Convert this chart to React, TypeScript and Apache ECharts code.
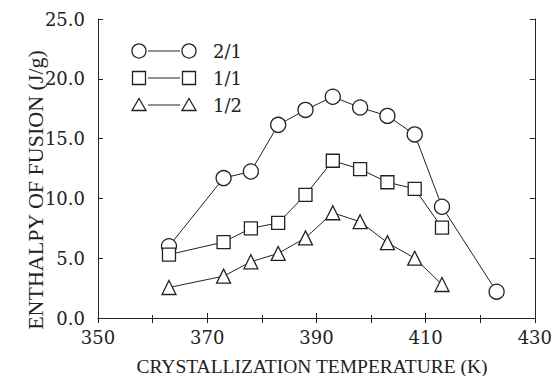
import React, { useEffect, useRef } from "react";
import * as echarts from "echarts";

const temps21 = [363, 373, 378, 383, 388, 393, 398, 403, 408, 413, 423];
const vals21 = [6.0, 11.7, 12.25, 16.15, 17.4, 18.5, 17.6, 16.9, 15.35, 9.3, 2.2];
const temps11 = [363, 373, 378, 383, 388, 393, 398, 403, 408, 413];
const vals11 = [5.3, 6.35, 7.5, 7.95, 10.3, 13.15, 12.45, 11.35, 10.8, 7.55];
const temps12 = [363, 373, 378, 383, 388, 393, 398, 403, 408, 413];
const vals12 = [2.55, 3.5, 4.7, 5.4, 6.7, 8.8, 8.05, 6.3, 5.0, 2.8];
const legendLabels = ["2/1", "1/1", "1/2"];
const xTitle = "CRYSTALLIZATION TEMPERATURE (K)";
const yTitle = "ENTHALPY OF FUSION (J/g)";

const INK = "#222";

export default function App() {
  const ref = useRef<HTMLDivElement>(null);
  useEffect(() => {
    const chart = echarts.init(ref.current!, null, { renderer: "svg" });
    const pair = (t: number[], v: number[]) => t.map((x, i) => [x, v[i]]);
    const common = {
      type: "line",
      lineStyle: { color: INK, width: 1 },
      itemStyle: { color: "#fff", borderColor: INK, borderWidth: 1.3 },
      showSymbol: true,
      z: 3,
    };
    const lx1 = 139, lx2 = 189, ltx = 213;
    const rows = [51, 78, 105];
    const markerStyle = { fill: "#fff", stroke: INK, lineWidth: 1.3 };
    const gfx: any[] = [];
    rows.forEach((y, i) => {
      gfx.push({ type: "line", shape: { x1: lx1 + 9, y1: y, x2: lx2 - 9, y2: y }, style: { stroke: INK, lineWidth: 1 } });
      [lx1, lx2].forEach((cx) => {
        if (i === 0) gfx.push({ type: "circle", shape: { cx, cy: y, r: 7 }, style: markerStyle });
        else if (i === 1) gfx.push({ type: "rect", shape: { x: cx - 6.5, y: y - 6.5, width: 13, height: 13 }, style: markerStyle });
        else gfx.push({ type: "polygon", shape: { points: [[cx, y - 6.5], [cx + 7, y + 5.5], [cx - 7, y + 5.5]] }, style: markerStyle });
      });
      gfx.push({ type: "text", x: ltx, y, style: { text: legendLabels[i], font: "18px 'DejaVu Serif'", fill: INK, verticalAlign: "middle" } });
    });
    gfx.push({ type: "text", x: 312, y: 366, style: { text: xTitle, font: "19.5px 'Liberation Serif'", fill: INK, align: "center", verticalAlign: "middle" } });
    gfx.push({ type: "text", x: 35, y: 190, rotation: Math.PI / 2, style: { text: yTitle, font: "22px 'Liberation Serif'", fill: INK, align: "center", verticalAlign: "middle" } });
    chart.setOption({
      animation: false,
      backgroundColor: "#fff",
      grid: { left: 98, right: 19, top: 19, bottom: 58, containLabel: false },
      xAxis: [
        {
          type: "value", min: 350, max: 430, interval: 20,
          axisLine: { show: true, lineStyle: { color: INK, width: 1 } },
          axisTick: { show: true, inside: true, length: 5, lineStyle: { color: INK } },
          minorTick: { show: true, splitNumber: 2, length: 3, lineStyle: { color: INK } },
          axisLabel: { fontFamily: "DejaVu Serif", fontSize: 18, color: INK, margin: 10 },
          splitLine: { show: false },
        },
        {
          type: "value", min: 350, max: 430, interval: 10, position: "top",
          axisLine: { show: true, lineStyle: { color: INK, width: 1 } },
          axisTick: { show: true, inside: true, length: 5, lineStyle: { color: INK } },
          axisLabel: { show: false },
          splitLine: { show: false },
        },
      ],
      yAxis: [
        {
          type: "value", min: 0, max: 25, interval: 5,
          axisLine: { show: true, lineStyle: { color: INK, width: 1 } },
          axisTick: { show: true, inside: true, length: 5, lineStyle: { color: INK } },
          axisLabel: { fontFamily: "DejaVu Serif", fontSize: 18, color: INK, margin: 13, formatter: (v: number) => v.toFixed(1) },
          splitLine: { show: false },
        },
        {
          type: "value", min: 0, max: 25, interval: 5, position: "right",
          axisLine: { show: true, lineStyle: { color: INK, width: 1 } },
          axisTick: { show: true, inside: true, length: 5, lineStyle: { color: INK } },
          axisLabel: { show: false },
          splitLine: { show: false },
        },
      ],
      series: [
        { ...common, name: legendLabels[0], symbol: "circle", symbolSize: 15, data: pair(temps21, vals21) },
        { ...common, name: legendLabels[1], symbol: "rect", symbolSize: 13, data: pair(temps11, vals11) },
        { ...common, name: legendLabels[2], symbol: "triangle", symbolSize: 14, data: pair(temps12, vals12) },
      ],
      graphic: gfx,
    });
    return () => chart.dispose();
  }, []);
  return <div ref={ref} style={{ width: 555, height: 376, position: "fixed", left: 0, top: 0 }} />;
}
